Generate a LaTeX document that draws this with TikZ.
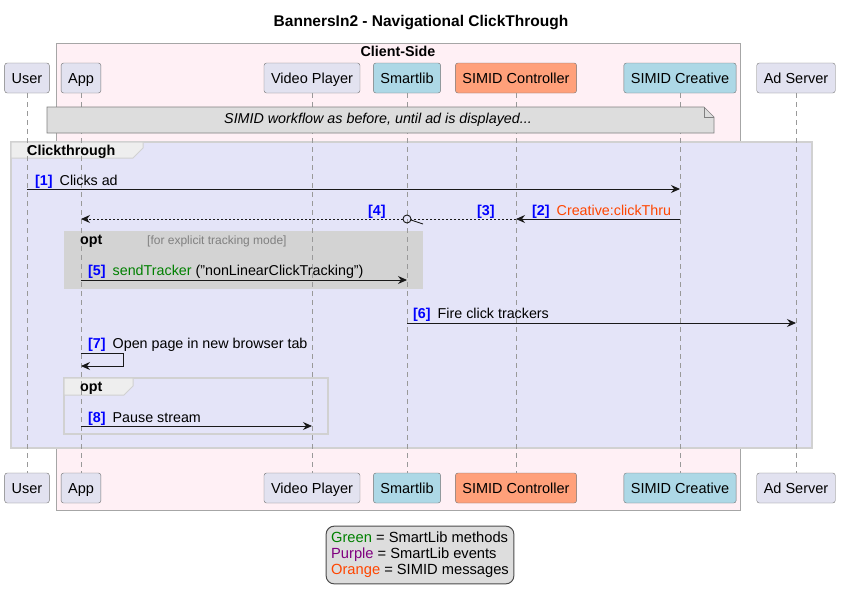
\documentclass[tikz,border=0pt]{standalone}
\usepackage{fontspec}
\setmainfont{Liberation Sans}
\usepackage{xcolor}
\usetikzlibrary{arrows.meta,positioning,calc}
\definecolor{partfill}{HTML}{E2E2F0}
\definecolor{smartblue}{HTML}{ADD8E6}
\definecolor{ctlsalmon}{HTML}{FFA07A}
\definecolor{clientpink}{HTML}{FFF0F5}
\definecolor{groupfill}{HTML}{E4E4F8}
\definecolor{notefill}{HTML}{DDDDDD}
\definecolor{optfill}{HTML}{D3D3D3}
\definecolor{tabfill}{HTML}{EEEEEE}
\definecolor{numblue}{HTML}{0000FF}
\definecolor{methgreen}{HTML}{008000}
\definecolor{evpurple}{HTML}{800080}
\definecolor{msgorange}{HTML}{FF4500}
\newcommand{\seqfont}{\fontsize{14.3}{16}\selectfont}
\newcommand{\seqnum}[1]{\textcolor{numblue}{\bfseries[#1]}\hspace{7pt}}
\tikzset{
  partbox/.style={draw=black!55, rounded corners=2.5pt, inner xsep=7pt, inner ysep=0pt, minimum height=30pt, text height=12.2pt, text depth=2pt, font=\fontsize{14.5}{17}\selectfont},
  lifeline/.style={draw=black!40, line width=1pt, dash pattern=on 5pt off 4pt},
  clientbox/.style={draw=black!35, line width=1pt, fill=clientpink},
  groupbox/.style={draw=black!18, line width=1.5pt, fill=groupfill},
  grouptab/.style={draw=black!18, line width=1pt, fill=tabfill},
  notebox/.style={draw=black!50, line width=0.6pt, fill=notefill},
  boldtext/.style={inner sep=0pt, font=\seqfont\bfseries},
  guardtext/.style={inner sep=0pt, text=black!50, font=\fontsize{12}{14}\selectfont},
  msglabel/.style={anchor=base west, inner sep=0pt, font=\seqfont},
  msg/.style={draw=black!90, line width=0.9pt, -{Stealth[length=9pt,width=8pt,inset=3pt]}},
  msgdot/.style={draw=black!90, line width=0.9pt, dash pattern=on 2pt off 2pt},
  legendbox/.style={draw=black!70, line width=1pt, rounded corners=8pt, fill=notefill, align=left, inner xsep=5pt, inner ysep=6pt, font=\fontsize{14.7}{16}\selectfont}
}
\begin{document}
\begin{tikzpicture}[x=1pt,y=-1pt]
\useasboundingbox (0,0) rectangle (842,605);
\node[boldtext, font=\fontsize{15.5}{18}\selectfont\bfseries] (title) at (421,23) {BannersIn2 - Navigational ClickThrough};

% boxes behind the lifelines
\draw[clientbox] (56,43) rectangle (740,510);
\draw[groupbox] (11,142) rectangle (812,448);
\draw[grouptab] (11,142) -- (143,142) -- (143,148) -- (133,158) -- (11,158) -- cycle;
\fill[optfill] (64,231) rectangle (423,289);
\draw[grouptab, line width=1.2pt, fill=none] (64,378) rectangle (328,434);
\draw[grouptab] (64,378) -- (133,378) -- (133,386) -- (124,395) -- (64,395) -- cycle;

% participants and lifelines
\foreach \name/\x/\txt/\fillc in {user/27/User/partfill, app/81/App/partfill, player/312/Video Player/partfill, smartlib/407/Smartlib/smartblue, simidctl/516/SIMID Controller/ctlsalmon, creative/680/SIMID Creative/smartblue, adserver/796/Ad Server/partfill}{
  \node[partbox, fill=\fillc] (\name) at (\x,78) {\txt};
  \node[partbox, fill=\fillc] (\name-b) at (\x,488) {\txt};
  \draw[lifeline] (\name.south) -- (\name-b.north);
}

% box labels
\node[boldtext] (clientlabel) at (398,51) {Client-Side};
\node[boldtext, anchor=base west] (grouplabel) at (27,155) {Clickthrough};
\node[boldtext, anchor=base west] (optlabel) at (80,244) {opt};
\node[guardtext, anchor=base west] (optguard) at (147,244) {[for explicit tracking mode]};
\node[boldtext, anchor=base west] (optlabelb) at (80,391) {opt};

% note
\draw[notebox] (47,107) -- (704,107) -- (714,117) -- (714,133) -- (47,133) -- cycle;
\draw[notebox, fill=none] (704,107) -- (704,117) -- (714,117);
\node[inner sep=0pt, font=\seqfont\itshape] (note) at (378,120) {SIMID workflow as before, until ad is displayed...};

% messages
\coordinate (m1) at (0,189);
\coordinate (m2) at (0,219);
\coordinate (m5) at (0,280);
\coordinate (m6) at (0,323);
\coordinate (m7) at (0,353);
\coordinate (m7b) at (0,366);
\coordinate (m8) at (0,426);

\draw[msg] (user |- m1) -- (creative |- m1);
\node[msglabel] (l1) at (35,185) {\seqnum{1}Clicks ad};

\draw[msg] (creative |- m2) -- (simidctl |- m2);
\node[msglabel] (l2) at (532,215) {\seqnum{2}\textcolor{msgorange}{Creative:clickThru}};

\draw[msgdot] (simidctl |- m2) -- ($(smartlib |- m2)+(4,0)$);
\draw[draw=black!90, line width=0.9pt] (smartlib |- m2) circle[radius=4];
\draw[draw=black!90, line width=0.8pt] ($(smartlib |- m2)+(4,1)$) -- ++(12,4);
\node[msglabel] (l3) at (477,215) {\textcolor{numblue}{\bfseries[3]}};

\draw[msgdot, -{Stealth[length=9pt,width=8pt,inset=3pt]}] ($(smartlib |- m2)+(-4,0)$) -- (app |- m2);
\node[msglabel] (l4) at (368,215) {\textcolor{numblue}{\bfseries[4]}};

\draw[msg] (app |- m5) -- (smartlib |- m5);
\node[msglabel] (l5) at (88,275) {\seqnum{5}\textcolor{methgreen}{sendTracker} ("nonLinearClickTracking")};

\draw[msg] (smartlib |- m6) -- (adserver |- m6);
\node[msglabel] (l6) at (413,318) {\seqnum{6}Fire click trackers};

\draw[msg] (app |- m7) -- ++(42,0) |- (app |- m7b);
\node[msglabel] (l7) at (88,348) {\seqnum{7}Open page in new browser tab};

\draw[msg] (app |- m8) -- (player |- m8);
\node[msglabel] (l8) at (88,422) {\seqnum{8}Pause stream};

% legend
\node[legendbox] (legend) at (420,555) {\textcolor{methgreen}{Green} = SmartLib methods\\\textcolor{evpurple}{Purple} = SmartLib events\\\textcolor{msgorange}{Orange} = SIMID messages};
\end{tikzpicture}
\end{document}
